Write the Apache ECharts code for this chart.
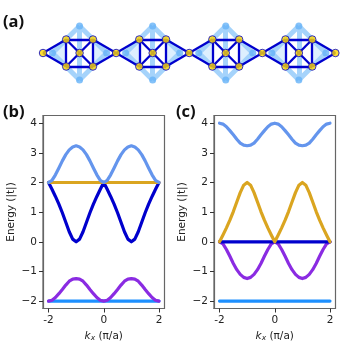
<!DOCTYPE html>
<html><head><meta charset="utf-8">
<style>html,body{margin:0;padding:0;background:#fff}#c{width:357px;height:350px}</style>
<script src="https://cdn.jsdelivr.net/npm/echarts@6/dist/echarts.min.js"></script>
</head><body><div id="c"></div>
<script>
const kValues = [-2,-1.875,-1.75,-1.625,-1.5,-1.375,-1.25,-1.125,-1,-0.875,-0.75,-0.625,-0.5,-0.375,-0.25,-0.125,0,0.125,0.25,0.375,0.5,0.625,0.75,0.875,1,1.125,1.25,1.375,1.5,1.625,1.75,1.875,2];

const bTop = [2,2.07,2.26,2.49,2.73,2.94,3.10,3.20,3.24,3.20,3.10,2.94,2.73,2.49,2.26,2.07,2,2.07,2.26,2.49,2.73,2.94,3.10,3.20,3.24,3.20,3.10,2.94,2.73,2.49,2.26,2.07,2];
const bGold = [2,2,2,2,2,2,2,2,2,2,2,2,2,2,2,2,2,2,2,2,2,2,2,2,2,2,2,2,2,2,2,2,2];
const bDark = [2,1.77,1.53,1.27,0.98,0.66,0.34,0.09,0,0.09,0.34,0.66,0.98,1.27,1.53,1.77,2,1.77,1.53,1.27,0.98,0.66,0.34,0.09,0,0.09,0.34,0.66,0.98,1.27,1.53,1.77,2];
const bPurple = [-2,-1.97,-1.88,-1.75,-1.61,-1.46,-1.33,-1.26,-1.24,-1.26,-1.33,-1.46,-1.61,-1.75,-1.88,-1.97,-2,-1.97,-1.88,-1.75,-1.61,-1.46,-1.33,-1.26,-1.24,-1.26,-1.33,-1.46,-1.61,-1.75,-1.88,-1.97,-2];
const bFlat = [-2,-2,-2,-2,-2,-2,-2,-2,-2,-2,-2,-2,-2,-2,-2,-2,-2,-2,-2,-2,-2,-2,-2,-2,-2,-2,-2,-2,-2,-2,-2,-2,-2];

const cTop = [4,3.97,3.88,3.75,3.61,3.46,3.33,3.26,3.24,3.26,3.33,3.46,3.61,3.75,3.88,3.97,4,3.97,3.88,3.75,3.61,3.46,3.33,3.26,3.24,3.26,3.33,3.46,3.61,3.75,3.88,3.97,4];
const cGold = [0,0.23,0.47,0.73,1.02,1.34,1.66,1.91,2,1.91,1.66,1.34,1.02,0.73,0.47,0.23,0,0.23,0.47,0.73,1.02,1.34,1.66,1.91,2,1.91,1.66,1.34,1.02,0.73,0.47,0.23,0];
const cDark = [0,0,0,0,0,0,0,0,0,0,0,0,0,0,0,0,0,0,0,0,0,0,0,0,0,0,0,0,0,0,0,0,0];
const cPurple = [0,-0.07,-0.26,-0.49,-0.73,-0.94,-1.10,-1.20,-1.24,-1.20,-1.10,-0.94,-0.73,-0.49,-0.26,-0.07,0,-0.07,-0.26,-0.49,-0.73,-0.94,-1.10,-1.20,-1.24,-1.20,-1.10,-0.94,-0.73,-0.49,-0.26,-0.07,0];
const cFlat = [-2,-2,-2,-2,-2,-2,-2,-2,-2,-2,-2,-2,-2,-2,-2,-2,-2,-2,-2,-2,-2,-2,-2,-2,-2,-2,-2,-2,-2,-2,-2,-2,-2];

const xTicks = [-2,0,2];
const yTicks = [-2,-1,0,1,2,3,4];
const yAxisTitle = 'Energy (|t|)';
const panelLabels = ['(a)','(b)','(c)'];

// lattice (one period = 1 unit)
const cellCenters = [0.5,1.5,2.5,3.5];
const connectors = [0,1,2,3,4];
const innerSites = [[-0.183,0.185],[0.183,0.185],[0.183,-0.185],[-0.183,-0.185]];
const outerSites = [[0,0.37],[0.37,0],[0,-0.37],[-0.37,0]];

const font = '"DejaVu Sans"';
const bandColors = {flat:'#1E90FF',purple:'#8A2BE2',dark:'#0000CD',gold:'#DAA520',top:'#6495ED'};
const spine = {color:'#666',width:1.2};

function band(vals,color,g){
  return {type:'line',xAxisIndex:g,yAxisIndex:g,data:kValues.map((k,i)=>[k,vals[i]]),
    showSymbol:false,symbol:'none',smooth:false,animation:false,silent:true,
    lineStyle:{color:color,width:3.2,join:'round',cap:'round'}};
}
function panelGrid(left){return {left:left,top:115.5,width:121.5,height:193,show:true,borderColor:'#666',borderWidth:1.2,backgroundColor:'#fff'};}
function xAx(g){return {gridIndex:g,type:'value',position:'bottom',min:-2.2,max:2.2,
  splitLine:{show:false},axisLine:{show:true,onZero:false,lineStyle:spine},
  axisTick:{show:true,inside:false,length:4,customValues:xTicks,lineStyle:{color:'#333',width:1}},
  axisLabel:{customValues:xTicks,fontFamily:font,fontSize:10.5,color:'#222',margin:6,formatter:v=>String(v)},
  name:'{k|k}{s|x}{t| (π/a)}',nameLocation:'middle',nameGap:17,
  nameTextStyle:{fontFamily:font,fontSize:10.5,color:'#222',
    rich:{k:{fontFamily:font,fontStyle:'italic',fontSize:10.5,color:'#222'},
          s:{fontFamily:font,fontStyle:'italic',fontSize:7.5,color:'#222',padding:[4,0,0,0]},
          t:{fontFamily:font,fontSize:10.5,color:'#222'}}}};}
function yAx(g){return {gridIndex:g,type:'value',position:'left',min:-2.25,max:4.26,
  splitLine:{show:false},axisLine:{show:true,onZero:false,lineStyle:spine},
  axisTick:{show:true,inside:false,length:4,customValues:yTicks,lineStyle:{color:'#333',width:1}},
  axisLabel:{customValues:yTicks,fontFamily:font,fontSize:10.5,color:'#222',margin:6,formatter:v=>String(v).replace('-','\u2212')},
  name:yAxisTitle,nameLocation:'middle',nameGap:26,nameRotate:90,
  nameTextStyle:{fontFamily:font,fontSize:10.5,color:'#222'}};}

const paleEdges=[], darkEdges=[], paleTris=[], innerPts=[], outerPts=[];
cellCenters.forEach(cx=>{
  const I=innerSites.map(p=>[cx+p[0],p[1]]), O=outerSites.map(p=>[cx+p[0],p[1]]);
  O.forEach((p,i)=>paleEdges.push({coords:[p,O[(i+1)%4]]}));
  paleEdges.push({coords:[O[0],O[2]]});
  paleTris.push([O[3],I[0],I[3]],[O[1],I[1],I[2]]);
  outerPts.push(...O);
  I.forEach((p,i)=>{darkEdges.push({coords:[p,I[(i+1)%4]]});darkEdges.push({coords:[p,[cx,0]]});innerPts.push(p);});
  innerPts.push([cx,0]);
  darkEdges.push({coords:[[cx-0.5,0],I[0]]},{coords:[[cx-0.5,0],I[3]]},{coords:[[cx+0.5,0],I[1]]},{coords:[[cx+0.5,0],I[2]]});
});
connectors.forEach(x=>innerPts.push([x,0]));

const option={
  animation:false,backgroundColor:'#fff',
  grid:[panelGrid(43),panelGrid(214),{left:41.7,top:16.45,width:295,height:73.1,show:false}],
  xAxis:[xAx(0),xAx(1),{gridIndex:2,type:'value',min:-0.018,max:4.018,show:false}],
  yAxis:[yAx(0),yAx(1),{gridIndex:2,type:'value',min:-0.5,max:0.5,show:false}],
  graphic:[
    {type:'text',left:3,top:14,style:{text:panelLabels[0],font:'bold 16.5px "Open Sans"',fill:'#111'}},
    {type:'text',left:3,top:104,style:{text:panelLabels[1],font:'bold 16.5px "Open Sans"',fill:'#111'}},
    {type:'text',left:176,top:104,style:{text:panelLabels[2],font:'bold 16.5px "Open Sans"',fill:'#111'}}
  ],
  series:[
    band(bFlat,bandColors.flat,0),band(bPurple,bandColors.purple,0),band(bDark,bandColors.dark,0),band(bGold,bandColors.gold,0),band(bTop,bandColors.top,0),
    band(cFlat,bandColors.flat,1),band(cPurple,bandColors.purple,1),band(cDark,bandColors.dark,1),band(cGold,bandColors.gold,1),band(cTop,bandColors.top,1),
    {type:'custom',xAxisIndex:2,yAxisIndex:2,coordinateSystem:'cartesian2d',silent:true,z:1,clip:true,
      data:paleTris.map((t,i)=>[i]),encode:{x:[],y:[]},
      renderItem:(p,api)=>({type:'polygon',shape:{points:paleTris[api.value(0)].map(q=>api.coord(q))},style:{fill:'rgba(120,190,250,0.25)'}})},
    {type:'lines',coordinateSystem:'cartesian2d',xAxisIndex:2,yAxisIndex:2,silent:true,z:2,
      data:paleEdges,lineStyle:{color:'#a5d3fb',width:5,opacity:1,curveness:0}},
    {type:'scatter',xAxisIndex:2,yAxisIndex:2,silent:true,z:3,data:outerPts,symbolSize:7,itemStyle:{color:'#66b3f7'}},
    {type:'lines',coordinateSystem:'cartesian2d',xAxisIndex:2,yAxisIndex:2,silent:true,z:4,
      data:darkEdges,lineStyle:{color:'#0000CD',width:2.3,opacity:1,curveness:0}},
    {type:'scatter',xAxisIndex:2,yAxisIndex:2,silent:true,z:5,clip:true,data:innerPts,symbolSize:7.5,
      itemStyle:{color:'#FFD700',borderColor:'#0000CD',borderWidth:1}}
  ]
};
const chart=echarts.init(document.getElementById('c'),null,{renderer:'canvas'});
chart.setOption(option);
</script></body></html>
